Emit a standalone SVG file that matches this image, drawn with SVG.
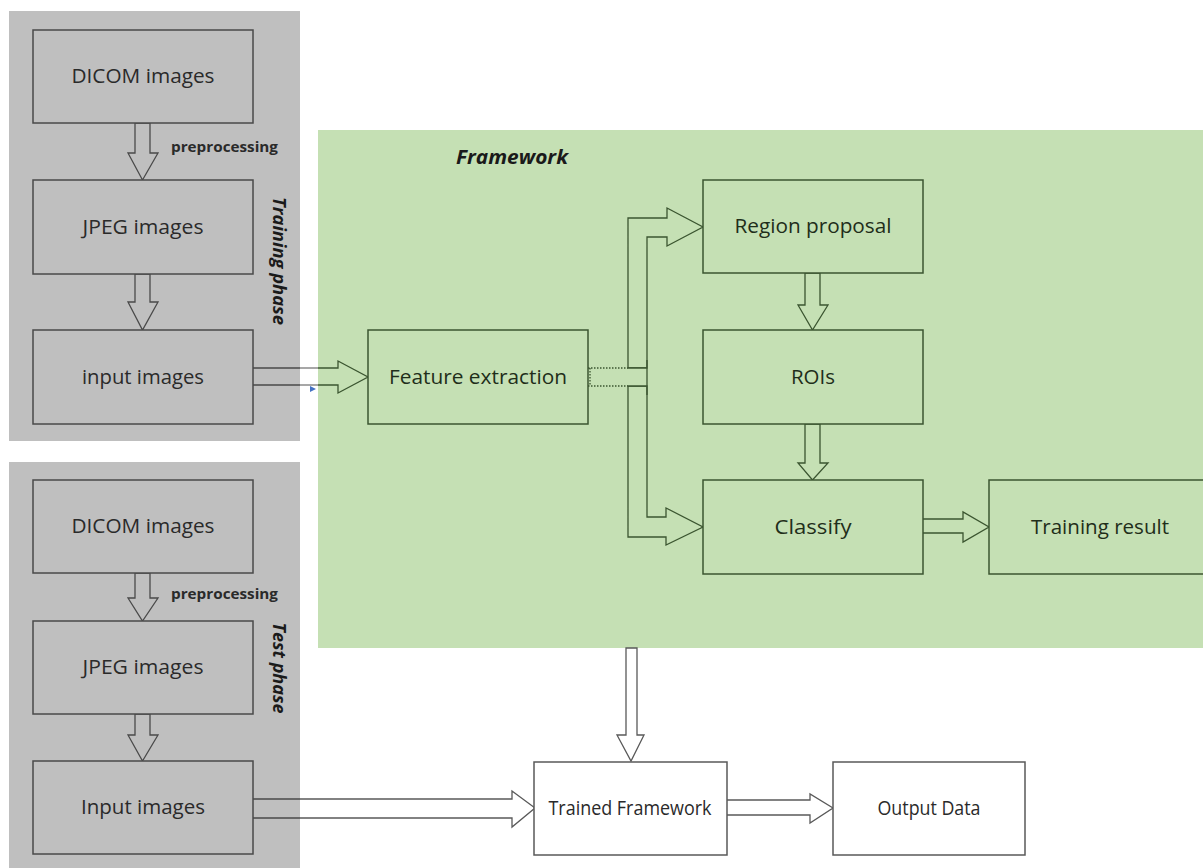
<svg xmlns="http://www.w3.org/2000/svg" width="1203" height="868" viewBox="0 0 1203 868">
<defs>
<style>
.panel{fill:#bfbfbf;stroke:none}
.gbox{fill:#bfbfbf;stroke:#4a4a4a;stroke-width:1.5}
.grbox{fill:#c5e0b4;stroke:#3b5530;stroke-width:1.5}
.wbox{fill:#ffffff;stroke:#595959;stroke-width:1.5}
.t{font-family:"Open Sans","Noto Sans",sans-serif;font-size:20px;fill:#2a2a2a;text-anchor:middle}
.tg{fill:#1f2e1a}
.lbl{font-family:"Open Sans","Noto Sans",sans-serif;font-size:14px;font-weight:bold;fill:#2a2a2a}
.ph{font-family:"Open Sans","Noto Sans",sans-serif;font-size:17.5px;font-weight:bold;font-style:italic;fill:#1a1a1a;text-anchor:middle}
.ga{fill:#bfbfbf;stroke:#4a4a4a;stroke-width:1.3}
.gra{fill:#c5e0b4;stroke:#3b5530;stroke-width:1.3}
.wa{fill:#ffffff;stroke:#595959;stroke-width:1.3}
.dot{fill:none;stroke:#3b5530;stroke-width:1.3;stroke-dasharray:1.5 1.5}
.ln{fill:none;stroke:#3b5530;stroke-width:1.3}
</style>
</defs>
<rect width="1203" height="868" fill="#ffffff"/>
<g id="training-panel">
<rect class="panel" x="9" y="11" width="291" height="430"/>
<text class="ph" transform="translate(273,261) rotate(90)" textLength="128" lengthAdjust="spacingAndGlyphs">Training phase</text>
</g>
<g id="test-panel">
<rect class="panel" x="9" y="462" width="291" height="406"/>
<text class="ph" transform="translate(273,668) rotate(90)" textLength="91" lengthAdjust="spacingAndGlyphs">Test phase</text>
</g>
<g id="framework-panel">
<rect x="318" y="130" width="885" height="518" fill="#c5e0b4"/>
<text x="456" y="164" font-family="'Open Sans','Noto Sans',sans-serif" font-size="20px" font-weight="bold" font-style="italic" fill="#1a1a1a" textLength="112" lengthAdjust="spacingAndGlyphs">Framework</text>
</g>
<g id="connectors">
<path class="ga" d="M135,123 H150 V153 H158 L142.5,180 L128,153 H135 Z"/>
<path class="ga" d="M135,274 H150 V302 H158 L142.5,330 L128,302 H135 Z"/>
<path class="ga" d="M135,573 H150 V598 H158 L142.5,621 L128,598 H135 Z"/>
<path class="ga" d="M135,714 H150 V735 H158 L142.5,761 L128,735 H135 Z"/>
<text class="lbl" x="171" y="152" textLength="107" lengthAdjust="spacingAndGlyphs">preprocessing</text>
<text class="lbl" x="171" y="599" textLength="107" lengthAdjust="spacingAndGlyphs">preprocessing</text>
<path d="M253,368 H300 M253,385 H300" stroke="#4a4a4a" stroke-width="1.3" fill="none"/>
<path class="gra" d="M318,368 H338 V361 L368,377 L338,393 V385 H318"/>
<path d="M300,368 H318 M300,385 H318" stroke="#8a8a8a" stroke-width="1.3" fill="none"/>
<polygon points="310,386 316,389 310,392" fill="#4472c4"/>
<path class="gra" d="M628,368 V218 H667 V208 L703,227 L667,246 V237 H647 V368 Z"/>
<path class="gra" d="M628,386 V537 H666 V545 L703,527 L666,508 V517 H647 V386 Z"/>
<rect x="628" y="368" width="19" height="18" fill="#c5e0b4"/>
<path class="ln" d="M628,368 H647 M628,386 H647 M647,360 V395"/>
<path class="dot" d="M588,368 H628 M588,386 H628 M590,368 V386"/>
<path class="gra" d="M805,273 H820 V305 H828 L812.5,330 L798,305 H805 Z"/>
<path class="gra" d="M805,424 H820 V463 H828 L812.5,480 L798,463 H805 Z"/>
<path class="gra" d="M923,519 H963 V512 L989,527 L963,542 V533 H923"/>
<path class="wa" d="M626,648 H637 V735 H644 L631,761 L617,735 H626 Z"/>
<path class="wa" d="M727,800 H810 V794 L833,808 L810,823 V815 H727"/>
<path d="M300,799 H512 V791 L535,808 L512,827 V818 H300" class="wa"/>
<path d="M253,799 H300 M253,818 H300" stroke="#4a4a4a" stroke-width="1.3" fill="none"/>
</g>
<g id="dicom-train"><rect class="gbox" x="33" y="30" width="220" height="93"/><text class="t" x="143" y="83" textLength="143" lengthAdjust="spacingAndGlyphs">DICOM images</text></g>
<g id="jpeg-train"><rect class="gbox" x="33" y="180" width="220" height="94"/><text class="t" x="143" y="234" textLength="121" lengthAdjust="spacingAndGlyphs">JPEG images</text></g>
<g id="input-train"><rect class="gbox" x="33" y="330" width="220" height="94"/><text class="t" x="143" y="384" textLength="122" lengthAdjust="spacingAndGlyphs">input images</text></g>
<g id="dicom-test"><rect class="gbox" x="33" y="480" width="220" height="93"/><text class="t" x="143" y="533" textLength="143" lengthAdjust="spacingAndGlyphs">DICOM images</text></g>
<g id="jpeg-test"><rect class="gbox" x="33" y="621" width="220" height="93"/><text class="t" x="143" y="674" textLength="121" lengthAdjust="spacingAndGlyphs">JPEG images</text></g>
<g id="input-test"><rect class="gbox" x="33" y="761" width="220" height="93"/><text class="t" x="143" y="814" textLength="124" lengthAdjust="spacingAndGlyphs">Input images</text></g>
<g id="feature-extraction"><rect class="grbox" x="368" y="330" width="220" height="94"/><text class="t tg" x="478" y="384" textLength="178" lengthAdjust="spacingAndGlyphs">Feature extraction</text></g>
<g id="region-proposal"><rect class="grbox" x="703" y="180" width="220" height="93"/><text class="t tg" x="813" y="233" textLength="157" lengthAdjust="spacingAndGlyphs">Region proposal</text></g>
<g id="rois"><rect class="grbox" x="703" y="330" width="220" height="94"/><text class="t tg" x="813" y="384" textLength="44" lengthAdjust="spacingAndGlyphs">ROIs</text></g>
<g id="classify"><rect class="grbox" x="703" y="480" width="220" height="94"/><text class="t tg" x="813" y="534" textLength="77" lengthAdjust="spacingAndGlyphs">Classify</text></g>
<g id="training-result"><rect class="grbox" x="989" y="480" width="220" height="94"/><text class="t tg" x="1100" y="534" textLength="138" lengthAdjust="spacingAndGlyphs">Training result</text></g>
<g id="trained-framework"><rect class="wbox" x="534" y="762" width="193" height="93"/><text class="t" x="630" y="815" textLength="163" lengthAdjust="spacingAndGlyphs">Trained Framework</text></g>
<g id="output-data"><rect class="wbox" x="833" y="762" width="192" height="93"/><text class="t" x="929" y="815" textLength="103" lengthAdjust="spacingAndGlyphs">Output Data</text></g>
</svg>
